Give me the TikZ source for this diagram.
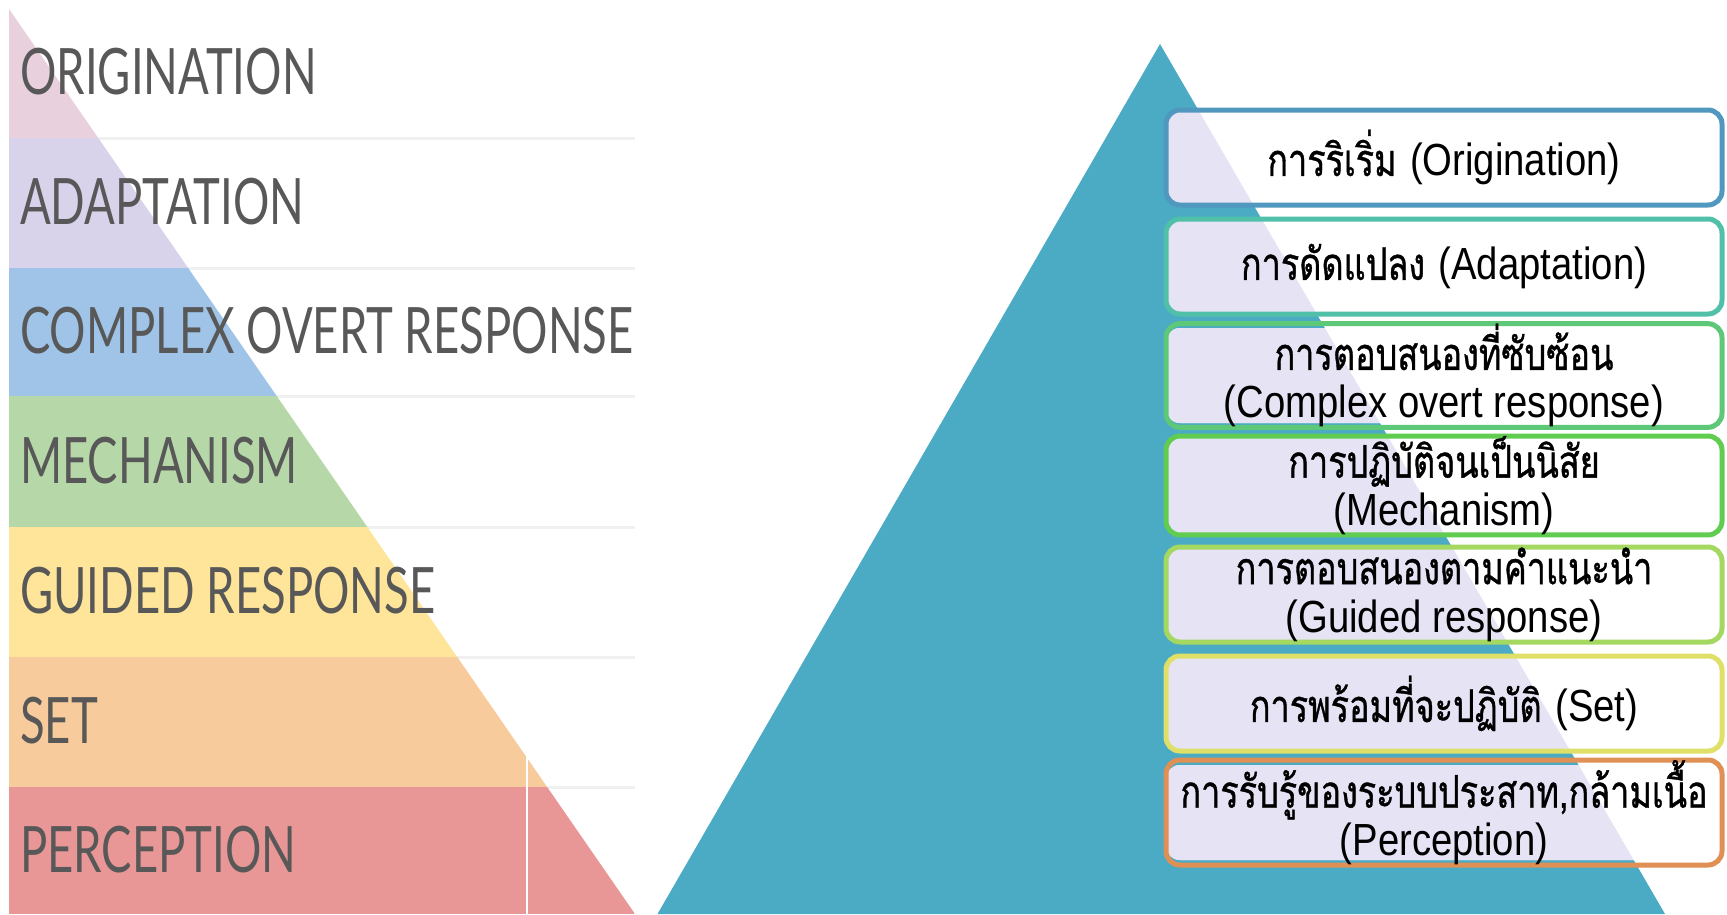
\documentclass[tikz,border=0pt]{standalone}
\usepackage{fontspec}
\newfontfamily\thaifont[Script=Thai,FakeStretch=0.76,FakeBold=0.8]{Loma}
\newfontfamily\latinfont[FakeStretch=0.85]{Liberation Sans}
\newfontfamily\leftfont[FakeStretch=0.71]{Lato}
\definecolor{cOri}{RGB}{232,208,221}
\definecolor{cAda}{RGB}{217,210,235}
\definecolor{cCom}{RGB}{159,196,232}
\definecolor{cMec}{RGB}{182,215,168}
\definecolor{cGui}{RGB}{254,229,153}
\definecolor{cSet}{RGB}{248,203,156}
\definecolor{cPer}{RGB}{232,150,150}
\definecolor{teal1}{RGB}{75,170,196}
\definecolor{lav}{RGB}{230,227,245}
\definecolor{sepgray}{RGB}{240,240,240}
\definecolor{lbl}{RGB}{88,88,88}
\definecolor{b1}{RGB}{80,152,192}
\definecolor{b2}{RGB}{80,192,168}
\definecolor{b3}{RGB}{92,200,120}
\definecolor{b4}{RGB}{96,204,80}
\definecolor{b5}{RGB}{164,216,96}
\definecolor{b6}{RGB}{224,224,104}
\definecolor{b7}{RGB}{224,144,84}
\tikzset{
  lefttxt/.style={anchor=base west, inner sep=0, text=lbl, font=\leftfont\fontsize{64}{64}\selectfont},
  levelbox/.style={draw=#1, line width=5, rounded corners=14, minimum width=556, minimum height=95, inner sep=0, align=center, text=black, font=\fontsize{45}{48}\selectfont},
  sepline/.style={draw=sepgray, line width=3}
}
\begin{document}
\begin{tikzpicture}[x=1pt,y=-1pt]
\useasboundingbox (0,0) rectangle (1727,914);
\fill[white] (0,0) rectangle (1727,914);
% ---------- left pyramid ----------
\foreach \yy in {138,268,396,527,657,787} {\draw[sepline] (9,\yy) -- (635,\yy);}
\begin{scope}
  \clip (9,9) -- (635,914) -- (9,914) -- cycle;
  \fill[cOri] (9,9) rectangle (635,138);
  \fill[cAda] (9,138) rectangle (635,268);
  \fill[cCom] (9,268) rectangle (635,396);
  \fill[cMec] (9,396) rectangle (635,527);
  \fill[cGui] (9,527) rectangle (635,657);
  \fill[cSet] (9,657) rectangle (635,787);
  \fill[cPer] (9,787) rectangle (635,914);
\end{scope}
\draw[white, line width=1.5] (527,748) -- (527,914);
\node[lefttxt] (lo) at (20,94) {ORIGINATION};
\node[lefttxt] (la) at (20,224) {ADAPTATION};
\node[lefttxt] (lc) at (20,353) {COMPLEX OVERT RESPONSE};
\node[lefttxt] (lm) at (20,483) {MECHANISM};
\node[lefttxt] (lg) at (20,613) {GUIDED RESPONSE};
\node[lefttxt] (ls) at (20,743) {SET};
\node[lefttxt] (lp) at (20,872) {PERCEPTION};
% ---------- right pyramid ----------
\fill[teal1] (1160,44) -- (657.5,914) -- (1665,914) -- cycle;
\foreach \t in {110,219,328,438,547,656,765} {
  \fill[white, rounded corners=14] (1166,\t) rectangle (1722,\t+95);
  \begin{scope}
    \clip (1160,44) -- (657.5,914) -- (1665,914) -- cycle;
    \fill[lav, rounded corners=14] (1166,\t) rectangle (1722,\t+95);
  \end{scope}
}
\node[levelbox=b1] (ro) at (1444,157.5) {\raisebox{3pt}{{\thaifont การริเริ่ม} {\latinfont (Origination)}}};
\node[levelbox=b2] (ra) at (1444,266.5) {\raisebox{3pt}{{\thaifont การดัดแปลง} {\latinfont (Adaptation)}}};
\node[levelbox=b3] (rc) at (1444,375.5) {{\thaifont การตอบสนองที่ซับซ้อน}\\{\latinfont (Complex overt response)}};
\node[levelbox=b4] (rm) at (1444,485.5) {{\thaifont การปฏิบัติจนเป็นนิสัย}\\{\latinfont (Mechanism)}};
\node[levelbox=b5] (rg) at (1444,594.5) {{\thaifont การตอบสนองตามคำแนะนำ}\\{\latinfont (Guided response)}};
\node[levelbox=b6] (rs) at (1444,703.5) {\raisebox{3pt}{{\thaifont การพร้อมที่จะปฏิบัติ} {\latinfont (Set)}}};
\node[levelbox=b7] (rp) at (1444,812.5) {{\thaifont การรับรู้ของระบบประสาท,กล้ามเนื้อ}\\{\latinfont (Perception)}};
\end{tikzpicture}
\end{document}
